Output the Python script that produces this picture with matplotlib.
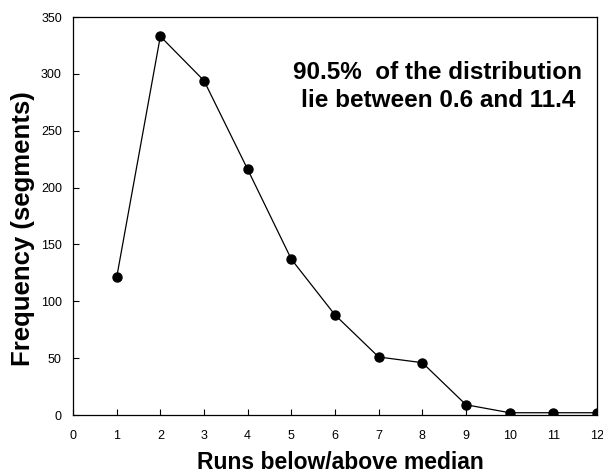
import matplotlib
matplotlib.use("Agg")
import matplotlib.pyplot as plt

plt.rcParams['font.family'] = ['Liberation Sans', 'DejaVu Sans']

runs = [1, 2, 3, 4, 5, 6, 7, 8, 9, 10, 11, 12]
freq = [121, 333, 294, 216, 137, 88, 51, 46, 9, 2, 2, 2]
xticks = list(range(0, 13))
yticks = [0, 50, 100, 150, 200, 250, 300, 350]

W, H = 603, 473
fig = plt.figure(figsize=(W / 100, H / 100), dpi=100)
ax = fig.add_axes([73 / W, 1 - 415 / H, (597 - 73) / W, (415 - 17) / H])
ax.plot(runs, freq, color='black', lw=0.9, marker='o', markersize=6.5)
ax.set_xlim(0, 12)
ax.set_ylim(0, 350)
ax.set_xticks(xticks)
ax.set_yticks(yticks)
ax.tick_params(direction='in', length=4, width=0.8, labelsize=9)
ax.tick_params(axis='x', pad=11)
ax.tick_params(axis='y', pad=8)
for s in ax.spines.values():
    s.set_linewidth(0.9)

fig.text(340 / W, 1 - 469 / H, 'Runs below/above median', fontsize=16.5,
         fontweight='bold', ha='center', va='baseline')
fig.text(23 / W, 1 - 229 / H, 'Frequency (segments)', fontsize=18.5,
         fontweight='bold', ha='center', va='center', rotation=90)
ax.text(0.696, 0.826, '90.5%  of the distribution\nlie between 0.6 and 11.4',
        transform=ax.transAxes, ha='center', va='center', fontsize=17.5,
        fontweight='bold', linespacing=1.3)
fig.savefig('out.png', dpi=100)
